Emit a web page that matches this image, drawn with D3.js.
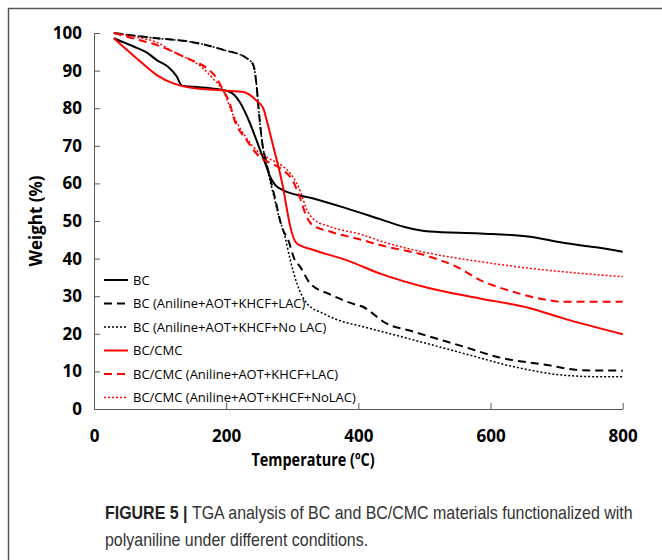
<!DOCTYPE html>
<html>
<head>
<meta charset="utf-8">
<script src="https://cdn.jsdelivr.net/npm/d3@7"></script>
<style>
  body { margin: 0; background: #fff; }
  .tick text { font-family: "Open Sans", sans-serif; font-weight: bold; font-size: 17px; fill: #000; }
  .legend text { font-family: "Open Sans", sans-serif; font-size: 13px; fill: #000; }
  .title { font-family: "Open Sans", sans-serif; font-weight: bold; font-size: 17px; fill: #000; }
  .caption { font-family: "Liberation Sans", Arial, sans-serif; font-size: 18px; fill: #333; }
</style>
</head>
<body>
<svg width="662" height="560"></svg>
<script>
// temperature (C), weight (%)
var bc = [[30,98.6],[45,97.5],[60,96.4],[80,94.8],[95,92.8],[112,91],[125,88.5],[133,86],[150,85.7],[186,85.1],
  [206,84.3],[221,81.5],[236,76],[249,70],[259,65.4],[266,62],[274,59.6],[286,58.2],[332,56],[380,53.5],
  [433,50.5],[470,48.4],[508,47.2],[584,46.7],[660,45.8],[710,44.2],[760,43],[800,41.8]];
var bcLac = [[30,100],[95,98.6],[145,97.7],[196,95.5],[231,93.3],[241,91.5],[246,86],[249,80],[254,71.5],[261,65.3],
  [266,61.8],[274,56],[285,48],[294,44.9],[303,40],[312,37.8],[327,33.4],[357,30.5],[397,27.7],[407,27.2],
  [418,25.9],[438,23.2],[483,20.6],[559,16.6],[609,13.9],[685,11.7],[740,10.3],[800,10.2]];
var bcNoLac = [[30,100],[95,98.6],[145,97.7],[196,95.5],[231,93.3],[241,91.5],[246,86],[249,80],[254,71.5],[261,65.3],
  [266,61],[271,57.4],[280,51],[289,45.8],[297,39.6],[307,33.4],[322,28.1],[347,25.4],[367,23.8],[407,21.9],
  [483,18.4],[559,14.8],[634,11.3],[710,9],[760,8.6],[800,8.6]];
var bcCmc = [[30,98.6],[44,96.4],[70,92.4],[95,88.8],[120,86.6],[145,85.5],[196,84.7],[226,84.3],[246,82],[256,80],
  [261,77],[271,70],[281,63],[286,59],[292,53],[297,48.5],[307,44],[332,42.3],[382,39.6],[433,36],
  [508,32.1],[584,29.4],[660,26.8],[710,24.1],[800,19.9]];
var bcCmcLac = [[30,100],[60,98.5],[95,96.8],[120,95],[145,93],[171,90.6],[186,87.9],[196,84.6],[206,81],[211,77.7],
  [231,71.5],[251,67],[266,65.5],[286,63.5],[300,61],[312,56],[322,51],[330,49],[357,47.2],[407,44.9],
  [433,43.6],[508,40.5],[549,37.8],[584,34.3],[634,31.2],[685,29],[710,28.5],[800,28.5]];
var bcCmcNoLac = [[30,100],[60,99],[95,97.5],[120,95],[165,90.6],[180,87.9],[196,84.4],[211,78],[231,72],[251,68],
  [266,66.5],[286,64.5],[300,62],[312,58],[322,53],[332,50.5],[357,48.5],[407,46.3],[433,44.7],[508,41.4],
  [584,39.2],[660,37.4],[735,36.1],[800,35.2]];

var names = ["BC", "BC (Aniline+AOT+KHCF+LAC)", "BC (Aniline+AOT+KHCF+No LAC)", "BC/CMC",
  "BC/CMC (Aniline+AOT+KHCF+LAC)", "BC/CMC (Aniline+AOT+KHCF+NoLAC)"];
var xTicks = [0, 200, 400, 600, 800];
var yTicks = [0, 10, 20, 30, 40, 50, 60, 70, 80, 90, 100];

var series = [
  {name: names[0], values: bc, color: "#000", dash: null, w: 2},
  {name: names[1], values: bcLac, color: "#000", dash: "8,5", w: 2},
  {name: names[2], values: bcNoLac, color: "#000", dash: "2,2", w: 1.5},
  {name: names[3], values: bcCmc, color: "#f00", dash: null, w: 2},
  {name: names[4], values: bcCmcLac, color: "#f00", dash: "8,5", w: 2},
  {name: names[5], values: bcCmcNoLac, color: "#f00", dash: "2,2", w: 1.5}
];

var svg = d3.select("svg"),
    margin = {top: 33, right: 40, bottom: 151, left: 94},
    width = 622.7 - margin.left,
    height = 409 - margin.top,
    g = svg.append("g").attr("transform", "translate(" + margin.left + "," + margin.top + ")");

// outer frame
svg.append("rect")
    .attr("x", 8.5).attr("y", 8.5)
    .attr("width", 680).attr("height", 600)
    .attr("fill", "none")
    .attr("stroke", "#555")
    .attr("stroke-width", 1.5);

var x = d3.scaleLinear().domain([0, 800]).range([0, width]),
    y = d3.scaleLinear().domain([0, 100]).range([height, 0]);

var line = d3.line()
    .curve(d3.curveMonotoneX)
    .x(function(d) { return x(d[0]); })
    .y(function(d) { return y(d[1]); });

g.append("g")
    .attr("class", "axis axis--x")
    .attr("transform", "translate(0," + height + ")")
    .call(d3.axisBottom(x).tickValues(xTicks).tickSizeInner(-6).tickSizeOuter(0).tickPadding(21))
    .call(function(a) { a.select(".domain").attr("stroke", "#595959"); a.selectAll("line").attr("stroke", "#595959"); });

g.append("g")
    .attr("class", "axis axis--y")
    .call(d3.axisLeft(y).tickValues(yTicks).tickSizeInner(-6).tickSizeOuter(0).tickPadding(12))
    .call(function(a) { a.select(".domain").attr("stroke", "#595959"); a.selectAll("line").attr("stroke", "#595959"); });

g.selectAll(".series")
    .data(series)
  .enter().append("path")
    .attr("class", "series")
    .attr("fill", "none")
    .attr("stroke", function(d) { return d.color; })
    .attr("stroke-width", function(d) { return d.w; })
    .attr("stroke-dasharray", function(d) { return d.dash; })
    .attr("d", function(d) { return line(d.values); });

// legend
var legend = svg.append("g").attr("class", "legend")
    .selectAll("g")
    .data(series)
  .enter().append("g")
    .attr("transform", function(d, i) { return "translate(104," + (280 + i * 23.5) + ")"; });

legend.append("line")
    .attr("x1", 0).attr("x2", 24)
    .attr("stroke", function(d) { return d.color; })
    .attr("stroke-width", function(d) { return d.w; })
    .attr("stroke-dasharray", function(d) { return d.dash; });

legend.append("text")
    .attr("x", 29)
    .attr("dy", "0.35em")
    .text(function(d) { return d.name; });

svg.append("text")
    .attr("class", "title")
    .attr("transform", "translate(42," + (margin.top + height / 2) + ") rotate(-90)")
    .attr("text-anchor", "middle")
    .text("Weight (%)");

// x title is narrower in the original (Calibri), squeeze a little
var xt = svg.append("g").attr("transform", "translate(313,466) scale(0.85,1)");
xt.append("text")
    .attr("class", "title")
    .attr("text-anchor", "middle")
    .text("Temperature (ºC)");

// caption set in a condensed face in the original; squeeze to the same width
var capG = svg.append("g");
var cap = capG.append("text").attr("class", "caption").attr("y", 519);
cap.append("tspan").attr("font-weight", "bold").attr("fill", "#222").text("FIGURE 5 | ");
cap.append("tspan").text("TGA analysis of BC and BC/CMC materials functionalized with");
capG.append("text").attr("class", "caption").attr("y", 546)
    .text("polyaniline under different conditions.");
var k = 528 / cap.node().getComputedTextLength();
capG.attr("transform", "translate(105,0) scale(" + k + ",1)");
</script>
</body>
</html>
